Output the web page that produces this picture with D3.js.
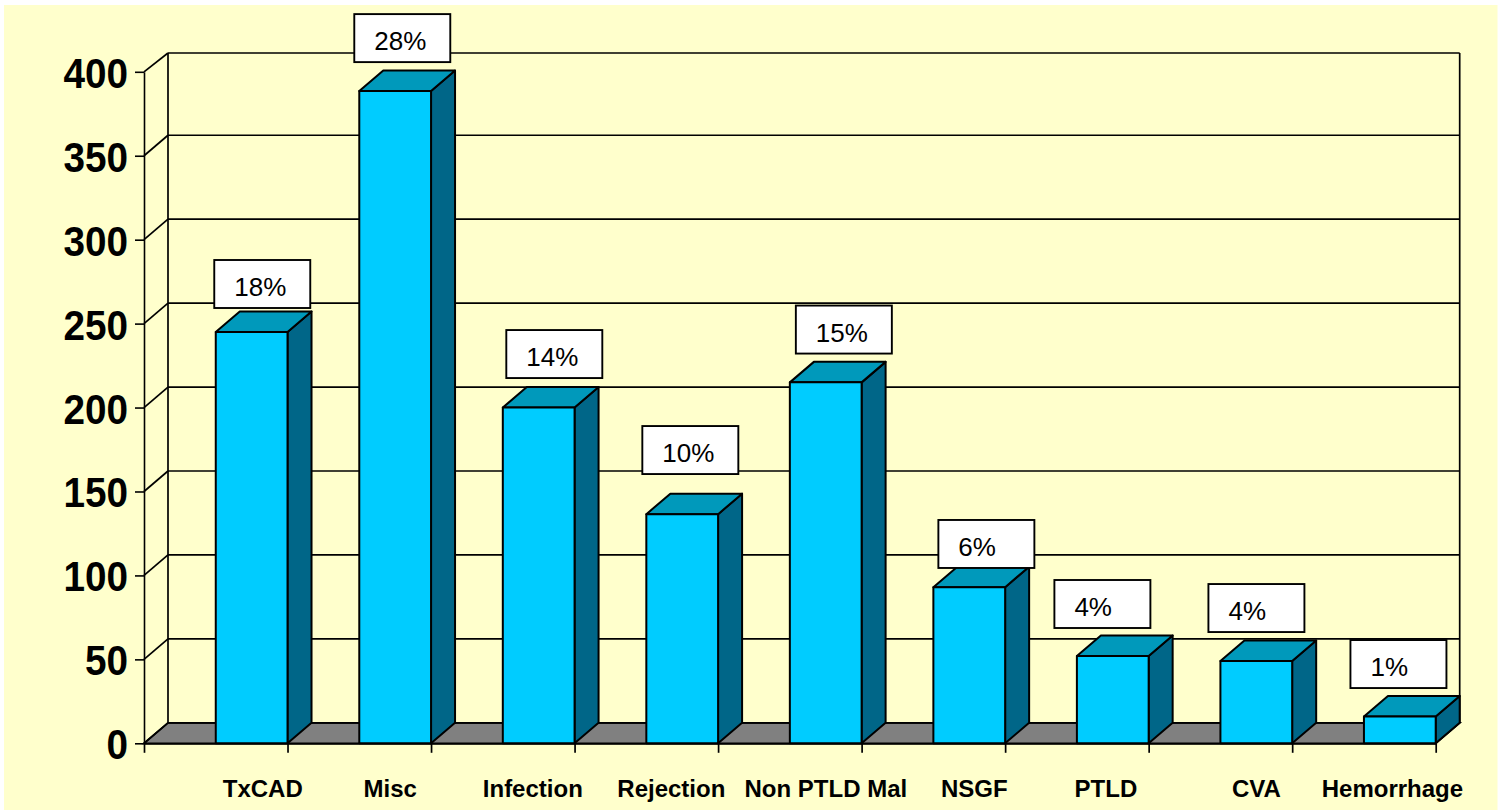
<!DOCTYPE html>
<html lang="en">
<head>
    <meta charset="UTF-8">
    <title>Causes of death</title>
    <script src="https://d3js.org/d3.v7.min.js"></script>
    <style>
        html, body { margin: 0; padding: 0; background: #fff; }
        svg { display: block; }
        text { font-family: "Liberation Sans", Arial, sans-serif; fill: #000; }
    </style>
</head>
<body>
    <div id="chart"></div>
    <script>
        const categories = ["TxCAD", "Misc", "Infection", "Rejection", "Non PTLD Mal", "NSGF", "PTLD", "CVA", "Hemorrhage"];
        const counts = [245, 388.5, 200, 136.5, 215, 93, 52, 49, 16];
        const percents = ["18%", "28%", "14%", "10%", "15%", "6%", "4%", "4%", "1%"];
        const yTicks = [0, 50, 100, 150, 200, 250, 300, 350, 400];

        // hand placed in the original slide, so they don't line up with the bars
        const boxNudgeX = [-1.5, -5, 3.5, -4, 6, 5, -22.5, -12, -13.5];
        const boxGapY = [3.5, 8.5, 9, 19.6, 8.3, -1.3, 7.5, 8.5, 7.9];
        const nameNudgeX = [47, 31, 30, 25, 36, 41, 29, 36, 28.5];

        const width = 1499, height = 810;
        const depthX = 24, depthY = 20.5;
        const boxW = 96, boxH = 48;

        const svg = d3.select("#chart").append("svg")
            .attr("width", width)
            .attr("height", height);

        svg.append("rect")
            .attr("x", 4).attr("y", 5)
            .attr("width", 1493.5).attr("height", 805)
            .attr("fill", "#ffffcc");

        const y = d3.scaleLinear().domain([0, 400]).range([743.3, 71.8]);
        // first entry is the axis origin, the others are the right edge of each bar
        const x = d3.scalePoint().domain(["", ...categories]).range([144, 1435.7]);
        const barW = x.step() / 2;

        const x0 = x.range()[0], x1 = x.range()[1];
        // top line of the wall sits a bit lower in the original
        const backY = d => y(d) - depthY + (d === 400 ? 1.7 : 0);

        // floor
        svg.append("path")
            .attr("d", d3.line()([[x0, y(0)], [x0 + depthX, y(0) - depthY], [x1 + depthX, y(0) - depthY], [x1, y(0)]]) + "Z")
            .attr("fill", "#808080")
            .attr("stroke", "#000")
            .attr("stroke-width", 1.8);

        // back wall grid
        const grid = svg.append("g").attr("fill", "none").attr("stroke", "#000").attr("stroke-width", 1.7);
        grid.selectAll(".gridline").data(yTicks).join("line")
            .attr("class", "gridline")
            .attr("x1", x0 + depthX).attr("x2", x1 + depthX)
            .attr("y1", backY).attr("y2", backY);
        grid.selectAll(".diag").data(yTicks).join("line")
            .attr("class", "diag")
            .attr("x1", x0).attr("x2", x0 + depthX)
            .attr("y1", d => y(d)).attr("y2", backY);
        grid.append("line")
            .attr("x1", x0 + depthX).attr("x2", x0 + depthX)
            .attr("y1", backY(400)).attr("y2", backY(0));
        grid.append("line")
            .attr("x1", x1 + depthX).attr("x2", x1 + depthX)
            .attr("y1", backY(400)).attr("y2", backY(0));

        // axes
        const yAxis = svg.append("g")
            .attr("transform", `translate(${x0},0)`)
            .call(d3.axisLeft(y).tickValues(yTicks).tickSize(9).tickSizeOuter(0).tickPadding(0));
        yAxis.selectAll("line, path").attr("stroke", "#000").attr("stroke-width", 1.6);
        yAxis.selectAll("text")
            .attr("x", 0).attr("dy", null)
            .attr("font-size", 43).attr("font-weight", "bold")
            .attr("text-anchor", "end")
            .attr("transform", "translate(-16,15.5) scale(0.9,1)");

        const xAxis = svg.append("g")
            .attr("transform", `translate(0,${y(0)})`)
            .call(d3.axisBottom(x).tickSize(9.5).tickSizeOuter(0).tickFormat(""));
        xAxis.selectAll("line, path").attr("stroke", "#000").attr("stroke-width", 1.7);

        // bars
        const rows = categories.map((name, i) => ({name, count: counts[i], percent: percents[i], i}));
        const line = d3.line();

        const bars = svg.append("g").selectAll("g").data(rows).join("g")
            .attr("stroke", "#000")
            .attr("stroke-width", 2)
            .attr("stroke-linejoin", "round");

        bars.append("path") // side
            .attr("fill", "#006688")
            .attr("d", d => {
                const r = x(d.name), t = y(d.count), b = y(0);
                return line([[r, t], [r + depthX, t - depthY], [r + depthX, b - depthY], [r, b]]) + "Z";
            });
        bars.append("path") // top
            .attr("fill", "#0099bb")
            .attr("d", d => {
                const r = x(d.name), t = y(d.count);
                return line([[r - barW, t], [r - barW + depthX, t - depthY], [r + depthX, t - depthY], [r, t]]) + "Z";
            });
        bars.append("rect") // front
            .attr("fill", "#00ccff")
            .attr("x", d => x(d.name) - barW)
            .attr("y", d => y(d.count))
            .attr("width", barW)
            .attr("height", d => y(0) - y(d.count));

        // percent boxes, text is left aligned inside
        const boxes = svg.append("g").selectAll("g").data(rows).join("g")
            .attr("transform", d => {
                const bx = x(d.name) - barW + boxNudgeX[d.i];
                const by = y(d.count) - depthY - boxGapY[d.i] - boxH;
                return `translate(${bx},${by})`;
            });
        boxes.append("rect")
            .attr("width", boxW).attr("height", boxH)
            .attr("fill", "#fff")
            .attr("stroke", "#000")
            .attr("stroke-width", 1.9);
        boxes.append("text")
            .attr("x", 20)
            .attr("y", 36)
            .attr("font-size", 26)
            .text(d => d.percent);

        // category names
        svg.append("g").selectAll("text").data(rows).join("text")
            .attr("x", d => x(d.name) - x.step() / 2 + nameNudgeX[d.i])
            .attr("y", 797)
            .attr("text-anchor", "middle")
            .attr("font-size", 24)
            .attr("font-weight", "bold")
            .text(d => d.name);
    </script>
</body>
</html>
